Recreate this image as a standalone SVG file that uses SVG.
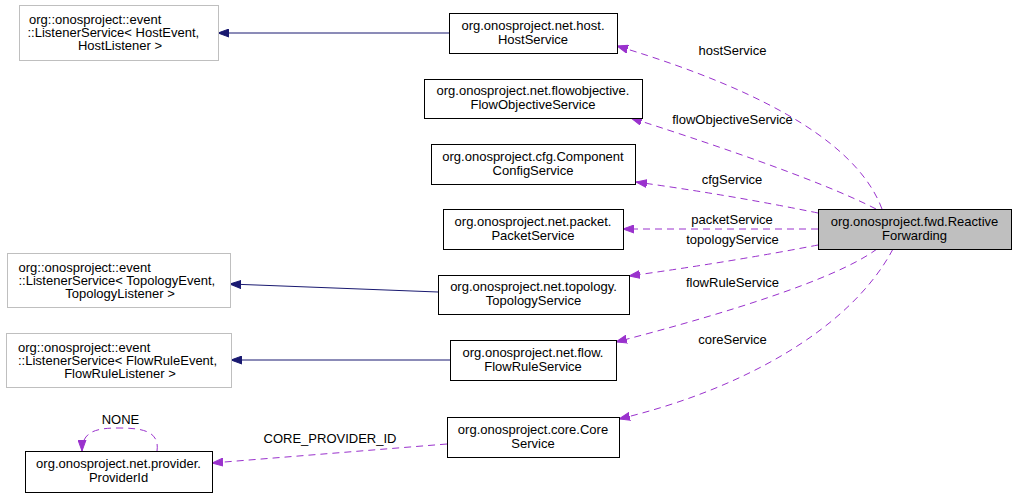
<svg xmlns="http://www.w3.org/2000/svg" width="1016" height="497" viewBox="0 0 1016 497">
<style>
text{font-family:"Liberation Sans",Arial,Helvetica,sans-serif;font-size:13px;fill:#000}
.m{text-anchor:middle}
.s{text-anchor:start}
.box{fill:#fff;stroke:#000;stroke-width:1}
.gbox{fill:#fff;stroke:#bfbfbf;stroke-width:1}
.cur{fill:#bfbfbf;stroke:#000;stroke-width:1}
.inh{fill:none;stroke:#191970;stroke-width:1}
.use{fill:none;stroke:#9a32cd;stroke-width:1;stroke-dasharray:7,5}
</style>
<defs>
<marker id="an" markerUnits="userSpaceOnUse" markerWidth="12" markerHeight="9" refX="11" refY="4.5" orient="auto">
<path d="M0,0.5 L11,4.5 L0,8.5 z" fill="#191970" stroke="#191970" stroke-width="1"/>
</marker>
<marker id="ap" markerUnits="userSpaceOnUse" markerWidth="12" markerHeight="9" refX="11" refY="4.5" orient="auto">
<path d="M0,0.5 L11,4.5 L0,8.5 z" fill="#9a32cd" stroke="#9a32cd" stroke-width="1"/>
</marker>
</defs>
<rect width="1016" height="497" fill="#fff"/>
<g id="edges">
<path class="inh" d="M449,33 L218,33" marker-end="url(#an)"/>
<path class="inh" d="M438,292 L230,284" marker-end="url(#an)"/>
<path class="inh" d="M450,360 L231,360" marker-end="url(#an)"/>
<path class="use" d="M882,209 C860,150 780,95 617,46" marker-end="url(#ap)"/>
<path class="use" d="M876,209 C820,180 700,140 631,118" marker-end="url(#ap)"/>
<path class="use" d="M818,213 Q730,195 636,182" marker-end="url(#ap)"/>
<path class="use" d="M818,229 L623,229" marker-end="url(#ap)"/>
<path class="use" d="M818,245 Q730,262 629,276" marker-end="url(#ap)"/>
<path class="use" d="M877,249 C835,280 720,315 616,342" marker-end="url(#ap)"/>
<path class="use" d="M893,249 C850,330 740,390 619,419" marker-end="url(#ap)"/>
<path class="use" d="M447,444 L212,463" marker-end="url(#ap)"/>
<path class="use" d="M157,451 C160,430 140,428 118,428 C95,428 82,432 82,451" marker-end="url(#ap)"/>
<text class="m" x="732.5" y="55">hostService</text>
<text class="m" x="732.5" y="124">flowObjectiveService</text>
<text class="m" x="732" y="184">cfgService</text>
<text class="m" x="732" y="224">packetService</text>
<text class="m" x="732.5" y="244">topologyService</text>
<text class="m" x="732.5" y="287">flowRuleService</text>
<text class="m" x="732.5" y="344">coreService</text>
<text class="m" x="330" y="443">CORE_PROVIDER_ID</text>
<text class="m" x="120.5" y="424">NONE</text>
</g>
<g id="node_reactive">
<rect class="cur" x="818.5" y="209.5" width="193" height="40"/>
<text class="m" x="914.5" y="225.5">org.onosproject.fwd.Reactive</text>
<text class="m" x="914.5" y="239.5">Forwarding</text>
</g>
<g id="node_hostservice">
<rect class="box" x="449.5" y="13.5" width="168" height="40"/>
<text class="m" x="533" y="29.5">org.onosproject.net.host.</text>
<text class="m" x="533" y="43.5">HostService</text>
</g>
<g id="node_hostlistener">
<rect class="gbox" x="19.5" y="5.5" width="199" height="55"/>
<text class="s" x="29" y="24">org::onosproject::event</text>
<text class="s" x="27.5" y="37">::ListenerService&lt; HostEvent,</text>
<text class="m" x="120" y="50">HostListener &gt;</text>
</g>
<g id="node_flowobjective">
<rect class="box" x="424.5" y="79.5" width="218" height="39"/>
<text class="m" x="533" y="95">org.onosproject.net.flowobjective.</text>
<text class="m" x="533" y="109">FlowObjectiveService</text>
</g>
<g id="node_cfg">
<rect class="box" x="431.5" y="144.5" width="204" height="40"/>
<text class="m" x="533" y="160.5">org.onosproject.cfg.Component</text>
<text class="m" x="533" y="174.5">ConfigService</text>
</g>
<g id="node_packet">
<rect class="box" x="443.5" y="209.5" width="180" height="40"/>
<text class="m" x="533" y="225.5">org.onosproject.net.packet.</text>
<text class="m" x="533" y="239.5">PacketService</text>
</g>
<g id="node_topology">
<rect class="box" x="438.5" y="275.5" width="191" height="39"/>
<text class="m" x="533.5" y="291">org.onosproject.net.topology.</text>
<text class="m" x="533.5" y="305">TopologyService</text>
</g>
<g id="node_topolistener">
<rect class="gbox" x="7.5" y="253.5" width="223" height="54"/>
<text class="s" x="18.5" y="271.5">org::onosproject::event</text>
<text class="s" x="18.5" y="284.5">::ListenerService&lt; TopologyEvent,</text>
<text class="m" x="120" y="297.5">TopologyListener &gt;</text>
</g>
<g id="node_flowrule">
<rect class="box" x="450.5" y="340.5" width="166" height="40"/>
<text class="m" x="533" y="356.5">org.onosproject.net.flow.</text>
<text class="m" x="533" y="370.5">FlowRuleService</text>
</g>
<g id="node_flowlistener">
<rect class="gbox" x="6.5" y="333.5" width="225" height="54"/>
<text class="s" x="18" y="351.5">org::onosproject::event</text>
<text class="s" x="18" y="364.5">::ListenerService&lt; FlowRuleEvent,</text>
<text class="m" x="120" y="377.5">FlowRuleListener &gt;</text>
</g>
<g id="node_core">
<rect class="box" x="447.5" y="417.5" width="172" height="40"/>
<text class="m" x="533" y="433.5">org.onosproject.core.Core</text>
<text class="m" x="533" y="447.5">Service</text>
</g>
<g id="node_providerid">
<rect class="box" x="25.5" y="451.5" width="187" height="41"/>
<text class="m" x="118.5" y="468">org.onosproject.net.provider.</text>
<text class="m" x="118.5" y="482">ProviderId</text>
</g>
</svg>
